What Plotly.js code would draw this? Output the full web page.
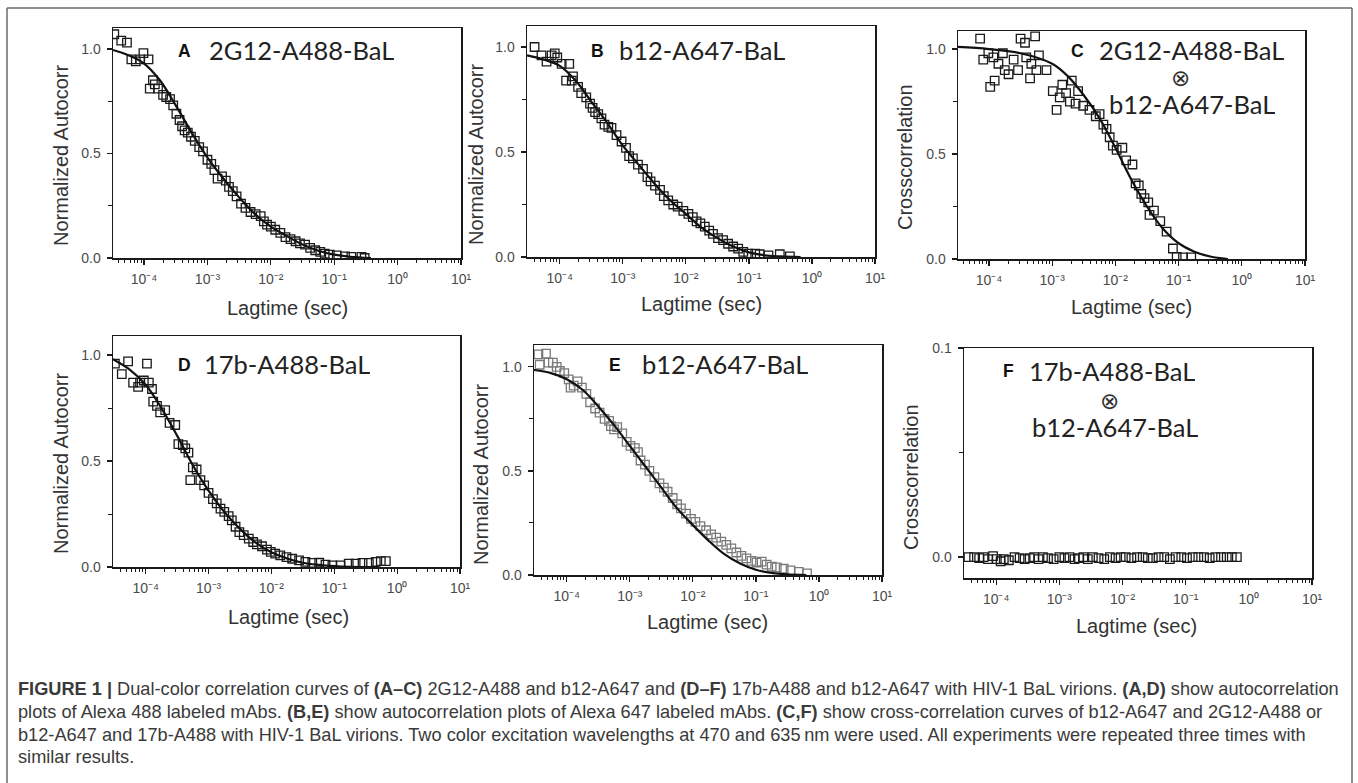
<!DOCTYPE html>
<html><head><meta charset="utf-8">
<script src="https://cdn.plot.ly/plotly-3.0.1.min.js"></script>
<style>html,body{margin:0;padding:0;background:#fff;} #chart{width:1358px;height:783px;}</style>
</head><body><div id="chart"></div>
<script>
// ---------- DATA (lag times given as log10 of seconds) ----------
const lagExpA = [-4.47,-4.36,-4.27,-4.20,-4.13,-4.06,-4.01,-3.93,-3.91,-3.86,-3.83,-3.78,-3.70,-3.65,-3.59,-3.54,-3.49,-3.44,-3.40,-3.36,-3.31,-3.26,-3.20,-3.13,-3.07,-3.00,-2.94,-2.89,-2.84,-2.77,-2.71,-2.66,-2.60,-2.54,-2.47,-2.40,-2.32,-2.24,-2.16,-2.11,-2.06,-2.00,-1.93,-1.85,-1.77,-1.69,-1.61,-1.54,-1.46,-1.38,-1.30,-1.22,-1.15,-1.07,-0.96,-0.83,-0.73,-0.57,-0.52];
const corrA = [1.07,1.04,1.03,0.95,0.94,0.95,0.98,0.95,0.81,0.85,0.83,0.81,0.78,0.77,0.76,0.73,0.69,0.66,0.63,0.61,0.60,0.58,0.56,0.53,0.51,0.47,0.45,0.42,0.38,0.39,0.37,0.34,0.32,0.295,0.26,0.24,0.22,0.21,0.20,0.175,0.16,0.15,0.135,0.12,0.10,0.09,0.08,0.07,0.064,0.048,0.037,0.029,0.021,0.016,0.013,0.008,0.005,0.005,0.0];
const fitExpA = [-4.49,-4.25,-4.0,-3.75,-3.5,-3.25,-3.0,-2.75,-2.5,-2.25,-2.0,-1.75,-1.5,-1.25,-1.0,-0.75,-0.42];
const fitA = [0.995,0.97,0.93,0.85,0.73,0.60,0.48,0.38,0.29,0.21,0.15,0.105,0.065,0.035,0.016,0.006,0.0];

const lagExpB = [-4.40,-4.29,-4.21,-4.13,-4.08,-4.04,-3.97,-3.90,-3.85,-3.81,-3.79,-3.71,-3.66,-3.58,-3.52,-3.48,-3.44,-3.39,-3.34,-3.29,-3.23,-3.18,-3.10,-3.02,-2.95,-2.90,-2.84,-2.76,-2.68,-2.61,-2.56,-2.49,-2.41,-2.35,-2.28,-2.20,-2.13,-2.04,-1.96,-1.89,-1.83,-1.77,-1.70,-1.63,-1.57,-1.49,-1.41,-1.33,-1.25,-1.17,-1.09,-1.01,-0.90,-0.83,-0.69,-0.51,-0.35];
const corrB = [1.0,0.96,0.93,0.96,0.97,0.95,0.92,0.84,0.92,0.84,0.86,0.81,0.78,0.76,0.73,0.71,0.69,0.68,0.66,0.63,0.62,0.615,0.58,0.55,0.52,0.48,0.47,0.44,0.42,0.38,0.36,0.34,0.32,0.29,0.27,0.25,0.24,0.22,0.205,0.19,0.17,0.16,0.145,0.126,0.11,0.09,0.08,0.063,0.05,0.04,0.024,0.016,0.016,0.013,0.008,0.013,0.003];
const fitExpB = [-4.52,-4.25,-4.0,-3.75,-3.5,-3.25,-3.0,-2.75,-2.5,-2.25,-2.0,-1.75,-1.5,-1.25,-1.0,-0.75,-0.5,-0.18];
const fitB = [0.96,0.94,0.91,0.84,0.74,0.64,0.53,0.44,0.35,0.27,0.205,0.14,0.09,0.05,0.022,0.008,0.003,0.0];

const lagExpC = [-4.14,-4.09,-4.01,-3.98,-3.93,-3.91,-3.85,-3.78,-3.75,-3.69,-3.61,-3.54,-3.50,-3.43,-3.41,-3.35,-3.33,-3.27,-3.25,-3.21,-3.09,-2.99,-2.93,-2.88,-2.84,-2.78,-2.72,-2.69,-2.63,-2.59,-2.51,-2.41,-2.31,-2.25,-2.19,-2.14,-2.09,-2.04,-1.98,-1.89,-1.83,-1.73,-1.68,-1.63,-1.59,-1.54,-1.48,-1.46,-1.39,-1.29,-1.19,-1.09,-1.03,-0.93,-0.80];
const corrC = [1.05,0.95,0.98,0.82,0.96,0.85,0.93,0.98,0.90,0.88,0.95,0.90,1.05,1.03,0.96,0.86,0.93,1.06,0.90,0.97,0.90,0.80,0.71,0.77,0.83,0.79,0.75,0.85,0.74,0.80,0.73,0.71,0.68,0.69,0.64,0.62,0.58,0.54,0.52,0.53,0.47,0.45,0.36,0.35,0.31,0.29,0.27,0.21,0.23,0.18,0.13,0.05,0.01,0.008,0.008];
const fitExpC = [-4.49,-4.0,-3.5,-3.0,-2.75,-2.5,-2.25,-2.0,-1.75,-1.5,-1.25,-1.0,-0.75,-0.5,-0.22];
const fitC = [1.01,1.0,0.98,0.93,0.87,0.78,0.67,0.53,0.38,0.25,0.145,0.075,0.035,0.012,0.0];

const lagExpD = [-4.49,-4.38,-4.28,-4.20,-4.12,-4.09,-4.03,-3.98,-3.95,-3.90,-3.88,-3.82,-3.77,-3.69,-3.62,-3.53,-3.48,-3.41,-3.37,-3.32,-3.29,-3.25,-3.19,-3.13,-3.07,-3.00,-2.93,-2.87,-2.81,-2.75,-2.68,-2.63,-2.57,-2.51,-2.44,-2.36,-2.29,-2.23,-2.15,-2.07,-2.01,-1.94,-1.86,-1.76,-1.67,-1.56,-1.46,-1.35,-1.24,-1.14,-1.03,-0.90,-0.77,-0.66,-0.55,-0.45,-0.34,-0.26,-0.18];
const corrD = [0.96,0.91,0.97,0.87,0.85,0.87,0.88,0.96,0.87,0.84,0.78,0.76,0.73,0.74,0.68,0.67,0.58,0.575,0.56,0.54,0.41,0.47,0.46,0.41,0.385,0.35,0.32,0.30,0.275,0.26,0.24,0.22,0.19,0.165,0.15,0.134,0.118,0.107,0.098,0.082,0.071,0.063,0.055,0.047,0.039,0.031,0.024,0.019,0.020,0.011,0.008,0.008,0.016,0.016,0.019,0.019,0.024,0.028,0.028];
const fitExpD = [-4.52,-4.25,-4.0,-3.75,-3.5,-3.25,-3.0,-2.75,-2.5,-2.25,-2.0,-1.75,-1.5,-1.25,-1.0,-0.75,-0.3];
const fitD = [0.98,0.93,0.86,0.75,0.62,0.48,0.36,0.26,0.18,0.115,0.07,0.04,0.02,0.01,0.004,0.001,0.0];

const lagExpE = [-4.45,-4.43,-4.33,-4.29,-4.22,-4.16,-4.11,-4.04,-3.97,-3.94,-3.89,-3.83,-3.76,-3.69,-3.63,-3.55,-3.48,-3.40,-3.33,-3.30,-3.25,-3.20,-3.12,-3.05,-2.99,-2.92,-2.87,-2.83,-2.76,-2.69,-2.61,-2.53,-2.46,-2.40,-2.32,-2.25,-2.19,-2.11,-2.03,-1.96,-1.88,-1.79,-1.71,-1.63,-1.55,-1.47,-1.39,-1.31,-1.23,-1.15,-1.07,-0.99,-0.91,-0.83,-0.75,-0.67,-0.56,-0.45,-0.32,-0.19];
const corrE = [1.06,1.01,1.064,1.02,1.02,1.0,0.98,0.97,0.94,0.90,0.91,0.93,0.90,0.87,0.83,0.80,0.78,0.75,0.74,0.715,0.70,0.71,0.68,0.64,0.62,0.61,0.59,0.55,0.53,0.50,0.47,0.44,0.42,0.40,0.37,0.34,0.32,0.295,0.27,0.255,0.235,0.215,0.195,0.18,0.16,0.145,0.128,0.108,0.092,0.08,0.068,0.06,0.064,0.05,0.04,0.037,0.03,0.022,0.015,0.008];
const fitExpE = [-4.52,-4.25,-4.0,-3.75,-3.5,-3.25,-3.0,-2.75,-2.5,-2.25,-2.0,-1.75,-1.5,-1.25,-1.0,-0.75,-0.5,-0.2];
const fitE = [0.985,0.97,0.94,0.89,0.81,0.72,0.62,0.52,0.42,0.32,0.24,0.165,0.10,0.055,0.025,0.01,0.003,0.0];

const lagExpF = [-4.44,-4.35,-4.27,-4.20,-4.13,-4.05,-3.99,-3.93,-3.88,-3.80,-3.71,-3.63,-3.55,-3.47,-3.40,-3.33,-3.26,-3.18,-3.09,-3.00,-2.92,-2.84,-2.76,-2.69,-2.62,-2.55,-2.47,-2.38,-2.29,-2.20,-2.11,-2.03,-1.95,-1.86,-1.77,-1.68,-1.60,-1.52,-1.43,-1.34,-1.25,-1.16,-1.07,-0.98,-0.89,-0.80,-0.71,-0.62,-0.53,-0.44,-0.35,-0.27,-0.19];
const corrF = [0.0,0.0,-0.0005,0.0,-0.001,0.0005,-0.001,-0.002,-0.001,-0.0015,0.0,-0.0005,-0.001,-0.0005,0.0,-0.001,0.0,-0.0005,-0.001,0.0,-0.0005,0.0,-0.001,-0.0005,0.0,-0.001,0.0,-0.0005,-0.001,0.0,-0.0005,0.0,0.0,-0.0005,0.0,0.0,-0.0005,-0.0005,0.0,0.0,-0.001,0.0,0.0,-0.0005,0.0,0.0,0.0,-0.0005,0.0,0.0,0.0,0.0,0.0];

// tick labels
const decadeVals = [1e-4,1e-3,1e-2,1e-1,1,10];
const decadeText = ['10\u207B\u2074','10\u207B\u00B3','10\u207B\u00B2','10\u207B\u00B9','10\u2070','10\u00B9'];
const yTickVals = [0,0.5,1.0];
const yTickText = ['0.0','0.5','1.0'];
const yTickValsF = [0,0.1];
const yTickTextF = ['0.0','0.1'];

const panelNames = ['2G12-A488-BaL','b12-A647-BaL','2G12-A488-BaL','17b-A488-BaL','b12-A647-BaL','17b-A488-BaL'];
const panelSecond = {C:'b12-A647-BaL', F:'b12-A647-BaL'};
const autoTitle = 'Normalized Autocorr';
const crossTitle = 'Crosscorrelation';
const xTitle = 'Lagtime (sec)';
const captionLines = [
 '<b>FIGURE 1 |</b> Dual-color correlation curves of <b>(A–C)</b> 2G12-A488 and b12-A647 and <b>(D–F)</b> 17b-A488 and b12-A647 with HIV-1 BaL virions. <b>(A,D)</b> show autocorrelation',
 'plots of Alexa 488 labeled mAbs. <b>(B,E)</b> show autocorrelation plots of Alexa 647 labeled mAbs. <b>(C,F)</b> show cross-correlation curves of b12-A647 and 2G12-A488 or',
 'b12-A647 and 17b-A488 with HIV-1 BaL virions. Two color excitation wavelengths at 470 and 635\u2009nm were used. All experiments were repeated three times with',
 'similar results.'
];

// ---------- LAYOUT ----------
const W = 1358, H = 783;
const px = v => v / W, py = v => 1 - v / H;
const toSec = arr => arr.map(e => Math.pow(10, e));

const minorLog = [];
for (let d = -5; d <= 0; d++) for (let k = 2; k <= 9; k++) minorLog.push(k * Math.pow(10, d));

const panels = [
 {id:'A', n:'',  box:[113,461,28,258],  xr:[-4.49,1], yr:[0,1.1],   lag:lagExpA, g:corrA, fx:fitExpA, fy:fitA, col:'#1a1a1a', yt:autoTitle,  ytPos:[61,155],  xtPos:[287,308], lab:[185,51], name:[207,50]},
 {id:'B', n:'2', box:[527,875,26,257],  xr:[-4.52,1], yr:[0,1.1],   lag:lagExpB, g:corrB, fx:fitExpB, fy:fitB, col:'#1a1a1a', yt:autoTitle,  ytPos:[476,154], xtPos:[701,304], lab:[597,51], name:[617,50]},
 {id:'C', n:'3', box:[958,1305,31,259], xr:[-4.49,1], yr:[0,1.086], lag:lagExpC, g:corrC, fx:fitExpC, fy:fitC, col:'#1a1a1a', yt:crossTitle, ytPos:[905,157], xtPos:[1131,307], lab:[1077,51], name:[1097,50], otimes:[1180,77], name2:[1107,104]},
 {id:'D', n:'4', box:[113,460,336,567], xr:[-4.52,1], yr:[0,1.09],  lag:lagExpD, g:corrD, fx:fitExpD, fy:fitD, col:'#1a1a1a', yt:autoTitle,  ytPos:[61,463],  xtPos:[288,617], lab:[185,365], name:[202,363]},
 {id:'E', n:'5', box:[534,882,345,575], xr:[-4.52,1], yr:[0,1.105], lag:lagExpE, g:corrE, fx:fitExpE, fy:fitE, col:'#7a7a7a', yt:autoTitle,  ytPos:[481,474], xtPos:[707,622], lab:[615,365], name:[640,363]},
 {id:'F', n:'6', box:[964,1312,348,578],xr:[-4.51,1], yr:[-0.01,0.1],lag:lagExpF, g:corrF, fx:null, fy:null, col:'#1a1a1a', yt:crossTitle, ytPos:[911,477], xtPos:[1136,626], lab:[1008,371], name:[1027,370], otimes:[1109,401], name2:[1030,426]}
];

const tickFont = {family:'Liberation Sans, Arial, sans-serif', size:14, color:'#4a4a4a'};
const titleFont = {family:'Liberation Sans, Arial, sans-serif', size:20, color:'#333'};
const nameFont = {family:'Lato, Carlito, sans-serif', size:25.5, color:'#222'};
const letterFont = {family:'Liberation Sans, Arial, sans-serif', size:17.5, color:'#111'};

const data = [];
const layout = {
  width: W, height: H, margin:{l:0,r:0,t:0,b:0},
  paper_bgcolor:'#fff', plot_bgcolor:'#fff', showlegend:false,
  annotations: [], shapes: []
};

panels.forEach((p, i) => {
  const xa = 'x' + p.n, ya = 'y' + p.n;
  data.push({type:'scatter', mode:'markers', x: toSec(p.lag), y: p.g, xaxis: xa, yaxis: ya,
    marker:{symbol:'square-open', size:8.5, color:p.col, line:{width:1.3, color:p.col}}, hoverinfo:'skip'});
  if (p.fx) data.push({type:'scatter', mode:'lines', x: toSec(p.fx), y: p.fy, xaxis: xa, yaxis: ya,
    line:{color:'#111', width:2.2, shape:'spline', smoothing:1}, hoverinfo:'skip'});

  const isF = p.id === 'F';
  layout['xaxis' + p.n] = {
    type:'log', domain:[px(p.box[0]), px(p.box[1])], range:p.xr, anchor: ya,
    showline:true, mirror:true, linecolor:'#1a1a1a', linewidth:1.5,
    ticks:'outside', ticklen:5, tickwidth:1.2, tickcolor:'#1a1a1a',
    tickmode:'array', tickvals:decadeVals, ticktext:decadeText, tickfont:tickFont, ticklabelstandoff:3,
    minor:{tickmode:'array', tickvals:minorLog, ticks:'outside', ticklen:3, tickwidth:1, tickcolor:'#1a1a1a', showgrid:false},
    showgrid:false, zeroline:false, fixedrange:true
  };
  layout['yaxis' + p.n] = {
    domain:[py(p.box[3]), py(p.box[2])], range:p.yr, anchor: xa,
    showline:true, mirror:true, linecolor:'#1a1a1a', linewidth:1.5,
    ticks:'outside', ticklen:5, tickwidth:1.2, tickcolor:'#1a1a1a',
    tickmode:'array', tickvals: isF ? yTickValsF : yTickVals, ticktext: isF ? yTickTextF : yTickText,
    tickfont:tickFont, ticklabelstandoff:3,
    minor:{tickmode:'array', tickvals: isF ? [0.05] : [0.25,0.75], ticks:'outside', ticklen:4, tickwidth:1, tickcolor:'#1a1a1a', showgrid:false},
    showgrid:false, zeroline:false, fixedrange:true
  };

  const A = layout.annotations;
  A.push({xref:'paper', yref:'paper', x:px(p.ytPos[0]), y:py(p.ytPos[1]), text:p.yt, textangle:-90, showarrow:false, font:titleFont, xanchor:'center', yanchor:'middle'});
  A.push({xref:'paper', yref:'paper', x:px(p.xtPos[0]), y:py(p.xtPos[1]), text:xTitle, showarrow:false, font:titleFont, xanchor:'center', yanchor:'middle'});
  A.push({xref:'paper', yref:'paper', x:px(p.lab[0]), y:py(p.lab[1]), text:'<b>' + p.id + '</b>', showarrow:false, font:letterFont, xanchor:'center', yanchor:'middle'});
  A.push({xref:'paper', yref:'paper', x:px(p.name[0]), y:py(p.name[1]), text:panelNames[i], showarrow:false, font:nameFont, xanchor:'left', yanchor:'middle', height:27});
  if (p.otimes) {
    A.push({xref:'paper', yref:'paper', x:px(p.otimes[0]), y:py(p.otimes[1]), text:'\u2297', showarrow:false, font:{family:'DejaVu Sans, sans-serif', size:23, color:'#333'}, xanchor:'center', yanchor:'middle', height:21});
    A.push({xref:'paper', yref:'paper', x:px(p.name2[0]), y:py(p.name2[1]), text:panelSecond[p.id], showarrow:false, font:nameFont, xanchor:'left', yanchor:'middle', height:27});
  }
});

const capY = [689, 712, 735, 757];
captionLines.forEach((t, i) => {
  layout.annotations.push({xref:'paper', yref:'paper', x:px(16), y:py(capY[i]), text:t, showarrow:false,
    font:{family:'Liberation Sans, Arial, sans-serif', size:18.2, color:'#3a3a3a'}, xanchor:'left', yanchor:'middle', align:'left'});
});

// outer frame (left, top, right)
const frame = {type:'line', xref:'paper', yref:'paper', line:{color:'#6a6a6a', width:1.5}};
layout.shapes.push(Object.assign({}, frame, {x0:px(7), x1:px(7), y0:py(8), y1:0}));
layout.shapes.push(Object.assign({}, frame, {x0:px(7), x1:px(1352), y0:py(8), y1:py(8)}));
layout.shapes.push(Object.assign({}, frame, {x0:px(1352), x1:px(1352), y0:py(8), y1:0}));

Plotly.newPlot('chart', data, layout, {staticPlot:true, displayModeBar:false});
</script></body></html>
